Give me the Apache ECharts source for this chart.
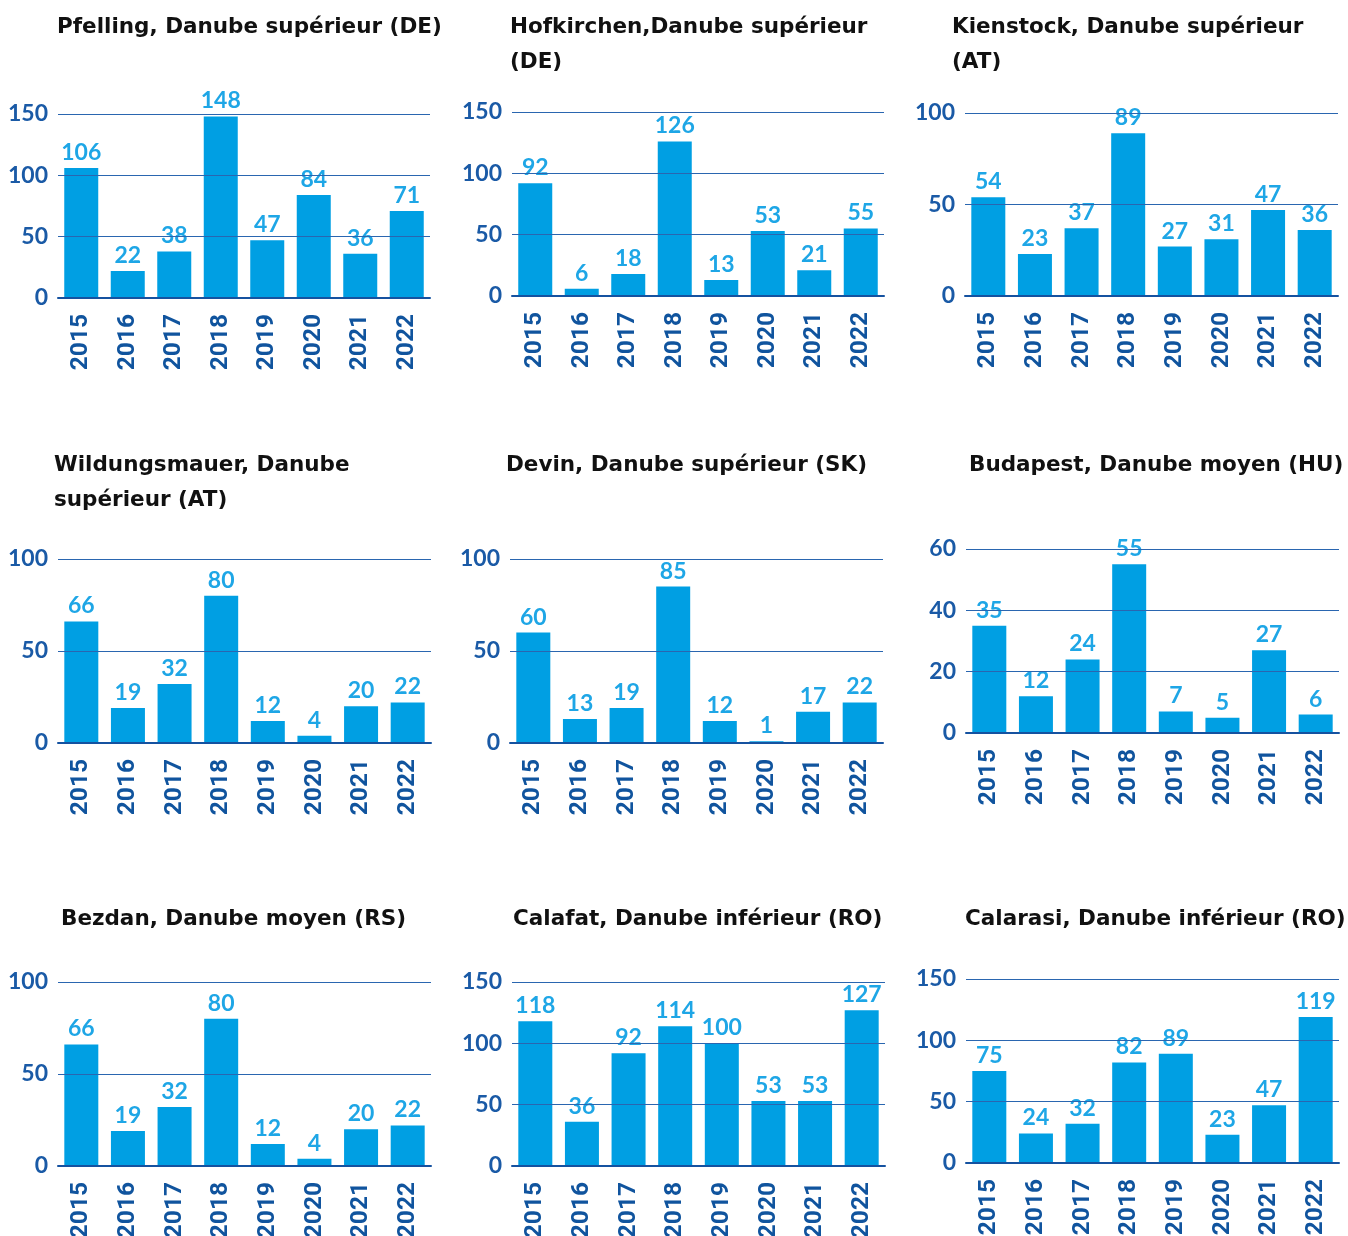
<!DOCTYPE html>
<html>
<head>
<meta charset="utf-8">
<title>Danube stations 2015–2022</title>
<script src="https://cdn.jsdelivr.net/npm/echarts@6/dist/echarts.min.js"></script>
<style>
  html, body { margin: 0; padding: 0; background: #ffffff; }
  #chart { width: 1348px; height: 1236px; }
</style>
</head>
<body>
<div id="chart"></div>
<script>
// Years shown on every panel
const years = ['2015', '2016', '2017', '2018', '2019', '2020', '2021', '2022'];

// Station titles
const titlePfelling = 'Pfelling, Danube supérieur (DE)';
const titleHofkirchen = 'Hofkirchen,Danube supérieur\n(DE)';
const titleKienstock = 'Kienstock, Danube supérieur\n(AT)';
const titleWildungsmauer = 'Wildungsmauer, Danube\nsupérieur (AT)';
const titleDevin = 'Devin, Danube supérieur (SK)';
const titleBudapest = 'Budapest, Danube moyen (HU)';
const titleBezdan = 'Bezdan, Danube moyen (RS)';
const titleCalafat = 'Calafat, Danube inférieur (RO)';
const titleCalarasi = 'Calarasi, Danube inférieur (RO)';

// Yearly values per station
const pfelling = [106, 22, 38, 148, 47, 84, 36, 71];
const hofkirchen = [92, 6, 18, 126, 13, 53, 21, 55];
const kienstock = [54, 23, 37, 89, 27, 31, 47, 36];
const wildungsmauer = [66, 19, 32, 80, 12, 4, 20, 22];
const devin = [60, 13, 19, 85, 12, 1, 17, 22];
const budapest = [35, 12, 24, 55, 7, 5, 27, 6];
const bezdan = [66, 19, 32, 80, 12, 4, 20, 22];
const calafat = [118, 36, 92, 114, 100, 53, 53, 127];
const calarasi = [75, 24, 32, 82, 89, 23, 47, 119];

// Value-axis ranges: [max, interval]
const axisPfelling = [150, 50];
const axisHofkirchen = [150, 50];
const axisKienstock = [100, 50];
const axisWildungsmauer = [100, 50];
const axisDevin = [100, 50];
const axisBudapest = [60, 20];
const axisBezdan = [100, 50];
const axisCalafat = [150, 50];
const axisCalarasi = [150, 50];

const BAR = '#009fe3';
const LABEL = '#1ea6e6';
const AXIS = '#10549e';
const GRID = '#2a66b0';

// Panel layout: plot box and title anchor
const panels = [
  { title: titlePfelling,      data: pfelling,      axis: axisPfelling,      box: [58, 114, 372, 184],  tl: [57, 10] },
  { title: titleHofkirchen,    data: hofkirchen,    axis: axisHofkirchen,    box: [512, 112, 372, 184], tl: [510, 10] },
  { title: titleKienstock,     data: kienstock,     axis: axisKienstock,     box: [965, 113, 373, 183], tl: [952, 10] },
  { title: titleWildungsmauer, data: wildungsmauer, axis: axisWildungsmauer, box: [58, 559, 373, 184],  tl: [54, 448] },
  { title: titleDevin,         data: devin,         axis: axisDevin,         box: [510, 559, 373, 184], tl: [506, 448] },
  { title: titleBudapest,      data: budapest,      axis: axisBudapest,      box: [966, 549, 373, 184], tl: [969, 448] },
  { title: titleBezdan,        data: bezdan,        axis: axisBezdan,        box: [58, 982, 373, 184],  tl: [61, 902] },
  { title: titleCalafat,       data: calafat,       axis: axisCalafat,       box: [512, 982, 373, 184], tl: [513, 902] },
  { title: titleCalarasi,      data: calarasi,      axis: axisCalarasi,      box: [966, 979, 373, 184], tl: [965, 902] }
];

const option = {
  backgroundColor: '#ffffff',
  animation: false,
  title: panels.map(p => ({
    text: p.title,
    left: p.tl[0],
    top: p.tl[1],
    padding: 0,
    textStyle: {
      fontFamily: 'DejaVu Sans',
      fontWeight: 'bold',
      fontSize: 21.5,
      lineHeight: 35,
      color: '#111111'
    }
  })),
  grid: panels.map(p => ({
    left: p.box[0], top: p.box[1], width: p.box[2], height: p.box[3],
    containLabel: false,
    outerBoundsMode: 'none'
  })),
  xAxis: panels.map((p, i) => ({
    type: 'category',
    gridIndex: i,
    data: years,
    boundaryGap: true,
    axisTick: { show: false },
    axisLine: { show: true, lineStyle: { color: '#1552a0', width: 2 } },
    axisLabel: {
      rotate: 90,
      margin: 16,
      interval: 0,
      fontFamily: 'Roboto',
      fontWeight: 'bold',
      fontSize: 24.5,
      color: AXIS
    },
    z: 5
  })),
  yAxis: panels.map((p, i) => ({
    type: 'value',
    gridIndex: i,
    min: 0,
    max: p.axis[0],
    interval: p.axis[1],
    axisLine: { show: false },
    axisTick: { show: false },
    splitLine: { show: true, lineStyle: { color: GRID, width: 1.2 } },
    axisLabel: {
      margin: 10,
      fontFamily: 'Lato',
      fontWeight: 'bold',
      fontSize: 23,
      color: '#1a5aa6'
    },
    z: 3
  })),
  series: panels.map((p, i) => ({
    type: 'bar',
    xAxisIndex: i,
    yAxisIndex: i,
    data: p.data,
    barWidth: 34,
    itemStyle: { color: BAR },
    z: 2,
    label: {
      show: true,
      position: 'top',
      distance: 4,
      fontFamily: 'Lato',
      fontWeight: 'bold',
      fontSize: 23,
      color: LABEL
    }
  }))
};

const chart = echarts.init(document.getElementById('chart'), null, { renderer: 'canvas' });
chart.setOption(option);
</script>
</body>
</html>
